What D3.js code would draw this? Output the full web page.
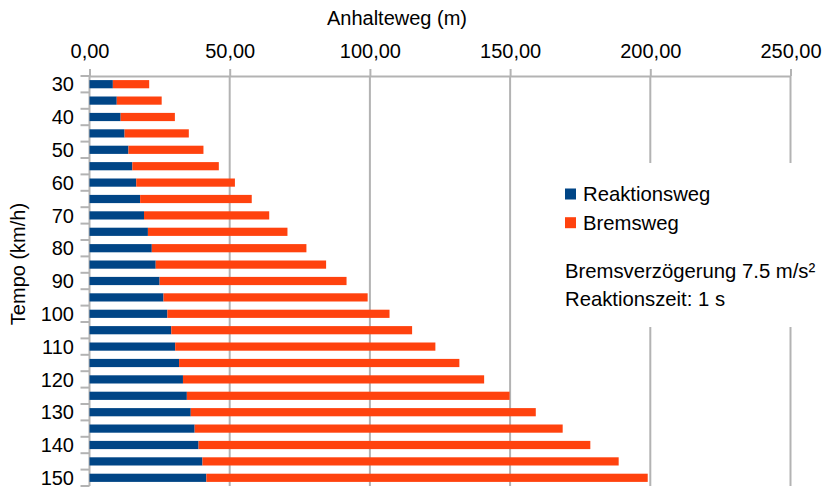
<!DOCTYPE html>
<html>
<head>
<meta charset="utf-8">
<script src="https://cdn.jsdelivr.net/npm/d3@7"></script>
<style>
  html, body { margin: 0; padding: 0; background: #fff; }
  svg { display: block; font-family: "Liberation Sans", Arial, sans-serif; }
</style>
</head>
<body>
<svg id="chart" width="823" height="488"></svg>
<script>
// ---- data ----
const speeds = [30,35,40,45,50,55,60,65,70,75,80,85,90,95,100,105,110,115,120,125,130,135,140,145,150];
const reaktionsweg = [8.33,9.72,11.11,12.5,13.89,15.28,16.67,18.06,19.44,20.83,22.22,23.61,25,26.39,27.78,29.17,30.56,31.94,33.33,34.72,36.11,37.5,38.89,40.28,41.67];
const bremsweg = [12.96,16.02,19.34,22.92,26.75,30.84,35.19,39.8,44.65,49.77,55.14,60.77,66.67,72.81,79.22,85.88,92.79,99.97,107.41,115.1,123.05,131.25,139.72,148.44,157.41];
const xTicks = [0,50,100,150,200,250];
const yLabels = [30,40,50,60,70,80,90,100,110,120,130,140,150];
const seriesNames = ["Reaktionsweg","Bremsweg"];
const colors = ["#004586","#ff420e"];
const noteLines = ["Bremsverzögerung 7.5 m/s²","Reaktionszeit: 1 s"];
const xTitle = "Anhalteweg (m)";
const yTitle = "Tempo (km/h)";

(function(){
const svg = d3.select("#chart");
const pl = 89.5, pr = 790.5, pt = 76, pb = 486;
const grid = "#b3b3b3";

const x = d3.scaleLinear().domain([0,250]).range([pl,pr]);
const y = d3.scaleBand().domain(speeds).range([pt,pb]).paddingInner(0.5).paddingOuter(0.25);

const rows = speeds.map((s,i)=>({speed:s, Reaktionsweg:reaktionsweg[i], Bremsweg:bremsweg[i]}));
const stack = d3.stack().keys(seriesNames)(rows);

// gridlines
svg.append("g").selectAll("line").data(xTicks).join("line")
  .attr("x1", d=>x(d)).attr("x2", d=>x(d))
  .attr("y1", pt).attr("y2", pb)
  .attr("stroke", grid).attr("stroke-width", 2);

// top axis
const xAxis = svg.append("g").attr("transform", `translate(0,${pt})`)
  .call(d3.axisTop(x).tickValues(xTicks).tickSize(7).tickSizeOuter(0)
    .tickFormat(d=>d.toFixed(2).replace(".",",")));
xAxis.select(".domain").attr("stroke", grid).attr("stroke-width", 2);
xAxis.selectAll(".tick line").attr("stroke", grid).attr("stroke-width", 2);
xAxis.selectAll(".tick text").attr("font-size", 20).attr("fill", "#000")
  .attr("font-family", "Liberation Sans, Arial, sans-serif").attr("dy", "0").attr("y", -18);

// left axis ticks at band boundaries
const step = y.step();
const bounds = d3.range(speeds.length + 1).map(i => pt + i*step);
svg.append("g").selectAll("line").data(bounds).join("line")
  .attr("x1", pl - 9).attr("x2", pl)
  .attr("y1", d=>d).attr("y2", d=>d)
  .attr("stroke", grid).attr("stroke-width", 2);

// left labels
svg.append("g").selectAll("text").data(yLabels).join("text")
  .attr("x", 74).attr("y", d=>y(d)+y.bandwidth()/2)
  .attr("dy", "0.36em").attr("text-anchor","end")
  .attr("font-size", 20).attr("fill","#000").text(d=>d);

// bars
svg.append("g").selectAll("g").data(stack).join("g")
  .attr("fill", (d,i)=>colors[i])
  .selectAll("rect").data(d=>d).join("rect")
  .attr("x", d=>x(d[0])).attr("width", d=>x(d[1])-x(d[0]))
  .attr("y", d=>y(d.data.speed)).attr("height", y.bandwidth());

// titles
svg.append("text").attr("x", 397).attr("y", 25).attr("text-anchor","middle")
  .attr("font-size", 20).attr("fill","#000").text(xTitle);
svg.append("text").attr("transform","translate(25,264) rotate(-90)").attr("text-anchor","middle")
  .attr("font-size", 20).attr("fill","#000").text(yTitle);

// legend box
svg.append("rect").attr("x", 556).attr("y", 163).attr("width", 267).attr("height", 164).attr("fill","#fff");
const lg = svg.append("g");
seriesNames.forEach((n,i)=>{
  lg.append("rect").attr("x",565).attr("y",188.5 + i*28.7).attr("width",11).attr("height",11).attr("fill",colors[i]);
  lg.append("text").attr("x",583).attr("y",201 + i*29).attr("font-size",20.3).attr("fill","#000").text(n);
});
noteLines.forEach((t,i)=>{
  lg.append("text").attr("x",565).attr("y",277.7 + i*28.3).attr("font-size",20.3).attr("fill","#000").text(t);
});
})();
</script>
</body>
</html>
